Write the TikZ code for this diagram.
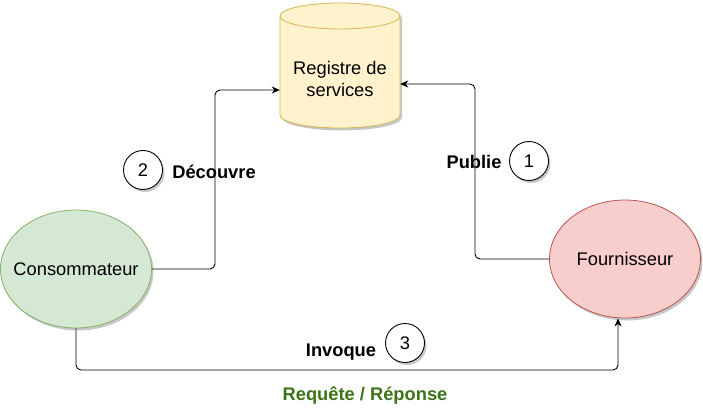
\documentclass[tikz,border=0pt]{standalone}
\usepackage{fontspec}
\setmainfont{Liberation Sans}
\usetikzlibrary{arrows.meta,shadows,shapes.geometric}
\definecolor{regfill}{HTML}{FFF2CC}
\definecolor{regline}{HTML}{D6B656}
\definecolor{consfill}{HTML}{D5E8D4}
\definecolor{consline}{HTML}{82B366}
\definecolor{fournfill}{HTML}{F8CECC}
\definecolor{fournline}{HTML}{B85450}
\definecolor{reqgreen}{HTML}{3D7317}
\tikzset{
  shad/.style={drop shadow={shadow xshift=2pt,shadow yshift=-2.5pt,opacity=0.22,fill=black}},
  actor/.style={ellipse,line width=0.8pt,minimum width=151pt,minimum height=118pt,inner sep=0pt,shad},
  numcircle/.style={circle,draw=black,line width=0.9pt,fill=white,minimum size=39pt,inner sep=0pt,shad},
  steplabel/.style={font=\fontsize{18.3}{21}\selectfont\bfseries,inner sep=0pt},
  conn/.style={line width=0.9pt,rounded corners=5pt,-{Stealth[length=8pt,width=7pt,inset=2.5pt]}},
}
\begin{document}
\begin{tikzpicture}[x=1pt,y=-1pt,font=\fontsize{18.3}{22}\selectfont]
\useasboundingbox (0,0) rectangle (703,414);
% registry cylinder
\node[minimum width=120pt,minimum height=125pt,inner sep=0pt] (reg) at (340,65.5) {};
\path[fill=regfill,shad] (280,16) -- (280,115)
  .. controls (280,122.18) and (306.9,128) .. (340,128)
  .. controls (373.1,128) and (400,122.18) .. (400,115)
  -- (400,16)
  .. controls (400,8.82) and (373.1,3) .. (340,3)
  .. controls (306.9,3) and (280,8.82) .. (280,16) -- cycle;
\draw[regline,line width=0.8pt] (280,16) -- (280,115)
  .. controls (280,122.18) and (306.9,128) .. (340,128)
  .. controls (373.1,128) and (400,122.18) .. (400,115)
  -- (400,16)
  .. controls (400,8.82) and (373.1,3) .. (340,3)
  .. controls (306.9,3) and (280,8.82) .. (280,16) -- cycle;
\draw[regline,line width=0.8pt] (280,16)
  .. controls (280,23.18) and (306.9,29) .. (340,29)
  .. controls (373.1,29) and (400,23.18) .. (400,16);
\node[align=center,inner sep=0pt] (regtxt) at (340,79) {Registre de\\services};
% actors
\node[actor,draw=consline,fill=consfill,label={center:Consommateur}] (cons) at (76,269) {};
\node[actor,draw=fournline,fill=fournfill,label={center:Fournisseur}] (fourn) at (625,259) {};
% connectors
\draw[conn] (cons.east) -- (215,269) -- (215,90) -- ([yshift=-24.5pt]reg.west);
\draw[conn] (fourn.west) -- (475,259) -- (475,84) -- ([yshift=-18.5pt]reg.east);
\draw[conn] (cons.south) -- (76,370) -- (618,370) -- ([xshift=-7pt]fourn.south);
% numbered steps
\node[numcircle] (c1) at (529,161) {1};
\node[numcircle] (c2) at (143,170) {2};
\node[numcircle] (c3) at (405,343) {3};
\node[steplabel] (l1) at (474,162) {Publie};
\node[steplabel] (l2) at (214,172) {Découvre};
\node[steplabel] (l3) at (341,352) {Invoque};
\node[steplabel,text=reqgreen] (l4) at (365,396) {Requête / Réponse};
\end{tikzpicture}
\end{document}
